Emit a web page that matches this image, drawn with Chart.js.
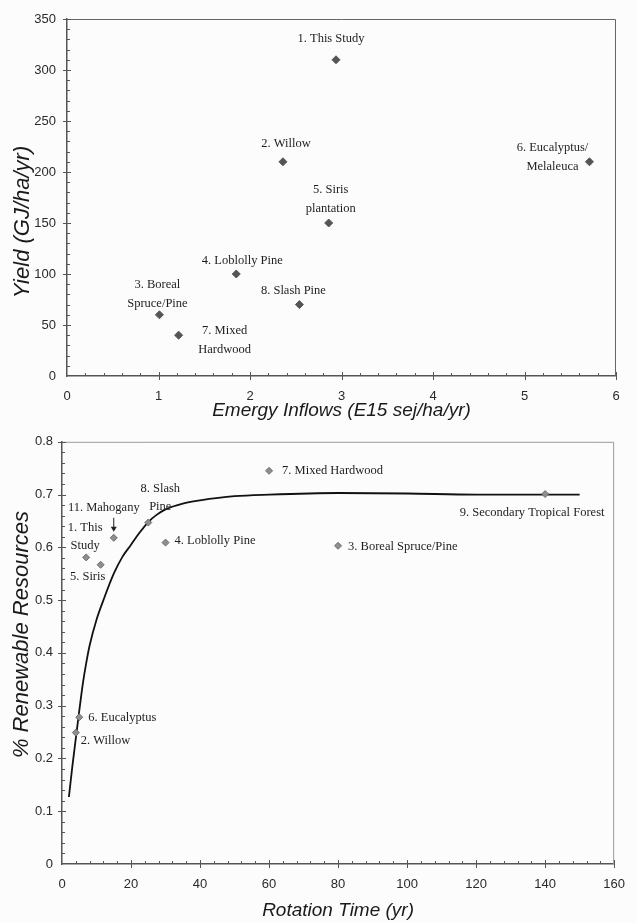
<!DOCTYPE html>
<html>
<head>
<meta charset="utf-8">
<script src="https://cdn.jsdelivr.net/npm/chart.js@4.4.0/dist/chart.umd.min.js"></script>
<style>
  html, body { margin: 0; padding: 0; background: #fcfcfc; }
  #wrap { position: relative; width: 638px; height: 923px; overflow: hidden; }
  canvas { position: absolute; left: 0; }
</style>
</head>
<body>
<div id="wrap">
  <canvas id="yieldChart" width="638" height="425" style="top:0px"></canvas>
  <canvas id="renewChart" width="638" height="498" style="top:425px"></canvas>
</div>
<script>
/* ---- top chart: yield vs emergy inflows ---- */
const yieldNames = [
  ['1. This Study'], ['2. Willow'], ['3. Boreal', 'Spruce/Pine'], ['4. Loblolly Pine'],
  ['5. Siris', 'plantation'], ['6. Eucalyptus/', 'Melaleuca'], ['7. Mixed', 'Hardwood'], ['8. Slash Pine']
];
const yieldEmergy = [2.94, 2.36, 1.01, 1.85, 2.86, 5.71, 1.22, 2.54];
const yieldValues = [310, 210, 60, 100, 150, 210, 40, 70];
const yieldXTicks = [0, 1, 2, 3, 4, 5, 6];
const yieldYTicks = [0, 50, 100, 150, 200, 250, 300, 350];

/* ---- bottom chart: renewable share vs rotation time ---- */
const renewNames = [
  ['1. This', 'Study'], ['2. Willow'], ['3. Boreal Spruce/Pine'], ['4. Loblolly Pine'],
  ['5. Siris'], ['6. Eucalyptus'], ['7. Mixed Hardwood'], ['8. Slash', 'Pine'],
  ['9. Secondary Tropical Forest'], ['11. Mahogany']
];
const renewRotation = [7, 4, 80, 30, 11.2, 5, 60, 25, 140, 15];
const renewShare = [0.581, 0.249, 0.603, 0.609, 0.567, 0.278, 0.745, 0.647, 0.701, 0.618];
const curveRotation = [2, 3, 4, 5, 6, 7, 8, 10, 12, 15, 17.5, 20, 22.5, 25, 27.5, 30, 35, 40, 50, 60, 80, 100, 120, 140, 150];
const curveShare = [0.127, 0.185, 0.238, 0.29, 0.34, 0.38, 0.414, 0.463, 0.5, 0.55, 0.582, 0.605, 0.628, 0.648, 0.662, 0.672, 0.683, 0.689, 0.697, 0.700, 0.703, 0.702, 0.700, 0.700, 0.700];
const renewXTicks = [0, 20, 40, 60, 80, 100, 120, 140, 160];
const renewYTicks = [0, 0.1, 0.2, 0.3, 0.4, 0.5, 0.6, 0.7, 0.8];

/* label placement (pixels from the point) */
const yieldLabelPos = [
  { align: 'center', dx: -5, dy: -21 },
  { align: 'center', dx: 3, dy: -18 },
  { align: 'center', dx: -2, dy: -30 },
  { align: 'center', dx: 6, dy: -13 },
  { align: 'center', dx: 2, dy: -33 },
  { align: 'center', dx: -37, dy: -14 },
  { align: 'center', dx: 46, dy: -4 },
  { align: 'center', dx: -6, dy: -14 }
];
const renewLabelPos = [
  { align: 'center', dx: -1, dy: -30 },
  { align: 'left', dx: 5, dy: 8 },
  { align: 'left', dx: 10, dy: 1 },
  { align: 'left', dx: 9, dy: -2 },
  { align: 'center', dx: -13, dy: 12 },
  { align: 'left', dx: 9, dy: 0 },
  { align: 'left', dx: 13, dy: 0 },
  { align: 'center', dx: 12, dy: -34 },
  { align: 'center', dx: -13, dy: 19 },
  { align: 'center', dx: -10, dy: -30, arrow: true }
];

const SANS = 'Arial, "Liberation Sans", sans-serif';
const SERIF = '"Times New Roman", "Liberation Serif", serif';

const pointLabels = {
  id: 'pointLabels',
  afterDatasetsDraw(chart, args, opts) {
    const ctx = chart.ctx;
    const meta = chart.getDatasetMeta(opts.datasetIndex);
    ctx.save();
    ctx.font = '12.5px ' + SERIF;
    ctx.fillStyle = '#1e1e1e';
    ctx.strokeStyle = '#1e1e1e';
    ctx.textBaseline = 'middle';
    meta.data.forEach((pt, i) => {
      const pos = opts.pos[i];
      ctx.textAlign = pos.align;
      opts.names[i].forEach((t, k) => {
        ctx.fillText(t, pt.x + pos.dx, pt.y + pos.dy + k * 18.5);
      });
      if (pos.arrow) {
        const ax = pt.x;
        ctx.lineWidth = 1;
        ctx.beginPath();
        ctx.moveTo(ax, pt.y - 20);
        ctx.lineTo(ax, pt.y - 8);
        ctx.stroke();
        ctx.beginPath();
        ctx.moveTo(ax - 3, pt.y - 11);
        ctx.lineTo(ax, pt.y - 6);
        ctx.lineTo(ax + 3, pt.y - 11);
        ctx.closePath();
        ctx.fill();
      }
    });
    ctx.restore();
  }
};

const frameTicks = {
  id: 'frameTicks',
  afterDraw(chart, args, opts) {
    const { ctx, chartArea: a } = chart;
    const xs = chart.scales.x, ys = chart.scales.y;
    ctx.save();
    ctx.strokeStyle = opts.frameColor;
    ctx.lineWidth = 1;
    ctx.beginPath();
    ctx.moveTo(a.left, a.top + 0.5);
    ctx.lineTo(a.right - 0.5, a.top + 0.5);
    ctx.lineTo(a.right - 0.5, a.bottom);
    ctx.stroke();

    ctx.strokeStyle = '#555';
    ctx.lineWidth = 1;
    const nx = Math.round((xs.max - xs.min) / opts.xMinor);
    const xEvery = Math.round(opts.xMajor / opts.xMinor);
    for (let i = 1; i <= nx; i++) {
      const px = Math.round(xs.getPixelForValue(xs.min + i * opts.xMinor)) + 0.5;
      const major = i % xEvery === 0;
      ctx.beginPath();
      ctx.moveTo(px, a.bottom + (major ? 4 : 0));
      ctx.lineTo(px, a.bottom - (major ? 4 : 3));
      ctx.stroke();
    }
    const ny = Math.round((ys.max - ys.min) / opts.yMinor);
    const yEvery = Math.round(opts.yMajor / opts.yMinor);
    for (let i = 1; i <= ny; i++) {
      const py = Math.round(ys.getPixelForValue(ys.min + i * opts.yMinor)) + 0.5;
      const major = i % yEvery === 0;
      ctx.beginPath();
      ctx.moveTo(a.left - (major ? 4 : 0), py);
      ctx.lineTo(a.left + (major ? 4 : 3), py);
      ctx.stroke();
    }
    ctx.restore();
  }
};

function axis(min, max, tickList, title, titleSize, pad, size, horizontal, labelPad) {
  return {
    type: 'linear',
    min: min,
    max: max,
    afterBuildTicks: s => { s.ticks = tickList.map(v => ({ value: v })); },
    afterFit: s => { if (horizontal) { s.height = size; } else { s.width = size; } },
    ticks: {
      font: { family: SANS, size: 13 },
      color: '#2a2a2a',
      padding: labelPad,
      maxRotation: 0,
      autoSkip: false
    },
    grid: { display: false, drawTicks: false },
    border: { display: true, color: '#555', width: 1.5 },
    title: {
      display: true,
      text: title,
      color: '#1a1a1a',
      font: { family: SANS, size: titleSize, style: 'italic' },
      padding: pad
    }
  };
}

// non-breaking spaces nudge the rotated titles along the axis, as in the original figure
const pad = n => '\u00a0'.repeat(n);

new Chart(document.getElementById('yieldChart'), {
  type: 'scatter',
  data: {
    datasets: [{
      data: yieldEmergy.map((x, i) => ({ x: x, y: yieldValues[i] })),
      pointStyle: 'rectRot',
      pointRadius: 4,
      backgroundColor: '#555',
      borderColor: '#555',
      borderWidth: 1
    }]
  },
  options: {
    responsive: false,
    animation: false,
    layout: { padding: { top: 19, right: 22, left: 0, bottom: 0 } },
    scales: {
      x: axis(0, 6, yieldXTicks, 'Emergy Inflows (E15 sej/ha/yr)', 19, { top: 0, bottom: 3 }, 49, true, 13),
      y: axis(0, 350, yieldYTicks, 'Yield (GJ/ha/yr)' + pad(8), 22, { top: 10, bottom: 0 }, 67, false, 11)
    },
    plugins: {
      legend: { display: false },
      tooltip: { enabled: false },
      pointLabels: { datasetIndex: 0, names: yieldNames, pos: yieldLabelPos },
      frameTicks: { frameColor: '#666', xMinor: 0.2, xMajor: 1, yMinor: 10, yMajor: 50 }
    }
  },
  plugins: [pointLabels, frameTicks]
});

new Chart(document.getElementById('renewChart'), {
  type: 'scatter',
  data: {
    datasets: [{
      data: renewRotation.map((x, i) => ({ x: x, y: renewShare[i] })),
      pointStyle: 'rectRot',
      pointRadius: 3.5,
      backgroundColor: '#8e8e8e',
      borderColor: '#6e6e6e',
      borderWidth: 1
    }, {
      data: curveRotation.map((x, i) => ({ x: x, y: curveShare[i] })),
      showLine: true,
      pointRadius: 0,
      borderColor: '#111',
      borderWidth: 1.8,
      cubicInterpolationMode: 'monotone'
    }]
  },
  options: {
    responsive: false,
    animation: false,
    layout: { padding: { top: 15, right: 12, left: 0, bottom: 0 } },
    scales: {
      x: axis(0, 160, renewXTicks, 'Rotation Time (yr)', 19, { top: 0, bottom: 1 }, 59, true, 13),
      y: axis(0, 0.8, renewYTicks, pad(6) + '% Renewable Resources', 22, { top: 9, bottom: 0 }, 62, false, 9)
    },
    plugins: {
      legend: { display: false },
      tooltip: { enabled: false },
      pointLabels: { datasetIndex: 0, names: renewNames, pos: renewLabelPos },
      frameTicks: { frameColor: '#999', xMinor: 4, xMajor: 20, yMinor: 0.02, yMajor: 0.1 }
    }
  },
  plugins: [pointLabels, frameTicks]
});
</script>
</body>
</html>
